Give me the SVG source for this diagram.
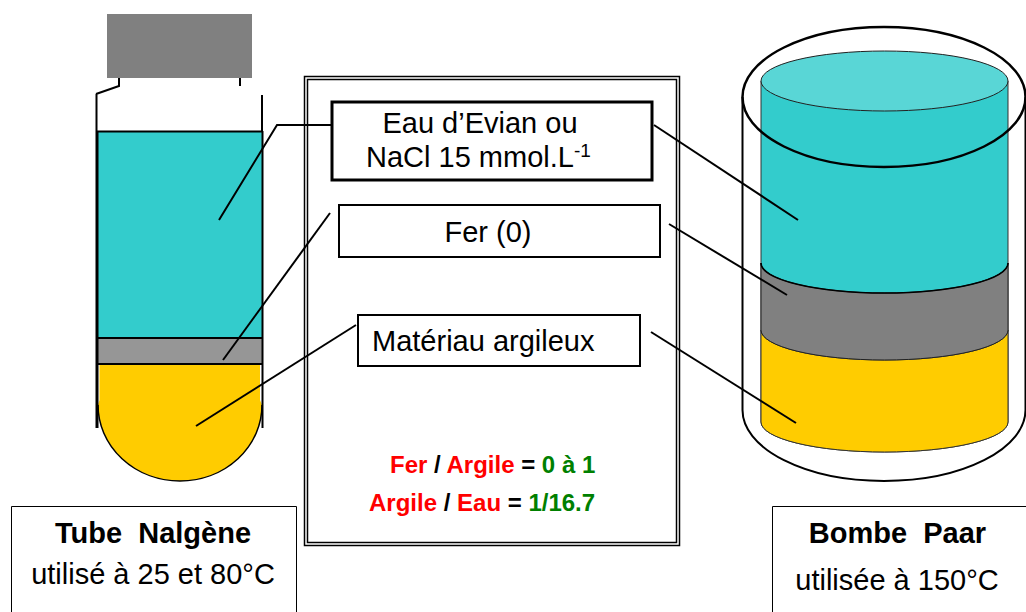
<svg xmlns="http://www.w3.org/2000/svg" width="1026" height="612" viewBox="0 0 1026 612">
<style>
text{font-family:"Liberation Sans",Arial,sans-serif;fill:#000}
.lbl{font-size:29px}
.bold{font-weight:700}
.r{fill:#f00}.g{fill:#008000}
.ratio{font-size:24px;font-weight:700}
.ol{stroke:#000;fill:none}
.box{fill:#fff;stroke:#000}
.conn{stroke:#000;stroke-width:2;fill:none}
</style>
<rect width="1026" height="612" fill="#fff"/>
<g id="tube">
<path d="M98 131H262V338H98Z" fill="#33cccc"/>
<path d="M98 338H262V364H98Z" fill="#969696"/>
<path d="M99.500 364H260V400L262 405A82 76 0 0 1 98 405L99.500 400Z" fill="#ffcc00"/>
<rect x="107" y="14" width="145" height="64" fill="#808080"/>
<path class="ol" stroke-width="2" d="M96 94L119 86V78M240 78V86M262 95V131M96.500 94V131"/>
<path class="ol" stroke-width="2" d="M97 131.500H262"/>
<path class="ol" stroke-width="3" d="M97 131V428"/>
<path class="ol" stroke-width="2" d="M262.500 131V428"/>
<path class="ol" stroke-width="2" d="M97 338H262M97 364H262"/>
<path class="ol" stroke-width="1.500" d="M98 405A82 76 0 0 0 262 405"/>
</g>
<g id="bombe">
<path d="M761 81V422A123.500 30 0 0 0 1008 422V81Z" fill="#33cccc" stroke="#333" stroke-width="1"/>
<path d="M761 330V422A123.500 30 0 0 0 1008 422V330A123.500 30 0 0 1 761 330Z" fill="#ffcc00" stroke="#333" stroke-width="1"/>
<path d="M761 263V330A123.500 30 0 0 0 1008 330V263A123.500 30 0 0 1 761 263Z" fill="#808080" stroke="#222" stroke-width="1"/>
<path d="M761 263A123.500 30 0 0 0 1008 263" class="ol" stroke-width="1.500"/>
<ellipse cx="884.500" cy="81" rx="123.500" ry="30" fill="#59d6d6" stroke="#222" stroke-width="1"/>
<ellipse cx="884" cy="97" rx="141.500" ry="70" class="ol" stroke-width="2.500"/>
<path class="ol" stroke-width="2" d="M742.500 97V410A141.500 71 0 0 0 1025.500 410V97"/>
</g>
<g id="panneau">
<rect x="304.500" y="76.500" width="375" height="469" class="box" stroke-width="1.500"/>
<rect x="307.500" y="79.500" width="369" height="463" class="box" stroke-width="1.500"/>
</g>
<g id="connecteurs">
<path class="conn" d="M331 125H277L219 220"/>
<path class="conn" d="M330 213L223 360"/>
<path class="conn" d="M356 325L196 426"/>
<path class="conn" d="M654 125L798 220"/>
<path class="conn" d="M669 224L787 295"/>
<path class="conn" d="M651 332L796 423"/>
</g>
<g id="eau">
<rect x="332" y="102" width="320" height="78" class="box" stroke-width="3"/>
<text class="lbl" x="480" y="133" text-anchor="middle">Eau d’Evian ou</text>
<text class="lbl" x="366" y="167">NaCl 15 mmol.L<tspan font-size="19" dy="-10">-1</tspan></text>
</g>
<g id="fer">
<rect x="339" y="205" width="321" height="52" class="box" stroke-width="2"/>
<text class="lbl" x="488" y="242" text-anchor="middle">Fer (0)</text>
</g>
<g id="argile">
<rect x="358" y="315" width="282" height="51" class="box" stroke-width="2"/>
<text class="lbl" x="372" y="351">Matériau argileux</text>
</g>
<g id="ratios">
<text class="ratio" x="390" y="473"><tspan class="r">Fer</tspan> / <tspan class="r">Argile</tspan> = <tspan class="g">0 à 1</tspan></text>
<text class="ratio" x="369" y="511"><tspan class="r">Argile</tspan> / <tspan class="r">Eau</tspan> = <tspan class="g">1/16.7</tspan></text>
</g>
<g id="tube-legende">
<path class="box" stroke-width="1" d="M11.500 612V506.500H296.500V612"/>
<text class="lbl bold" x="153" y="543" text-anchor="middle" xml:space="preserve">Tube  Nalgène</text>
<text class="lbl" x="153" y="584" text-anchor="middle">utilisé à 25 et 80°C</text>
</g>
<g id="bombe-legende">
<path class="box" stroke-width="1" d="M772.500 612V506.500H1026"/>
<text class="lbl bold" x="897.500" y="543" text-anchor="middle" xml:space="preserve">Bombe  Paar</text>
<text class="lbl" x="897" y="590" text-anchor="middle">utilisée à 150°C</text>
</g>
</svg>
